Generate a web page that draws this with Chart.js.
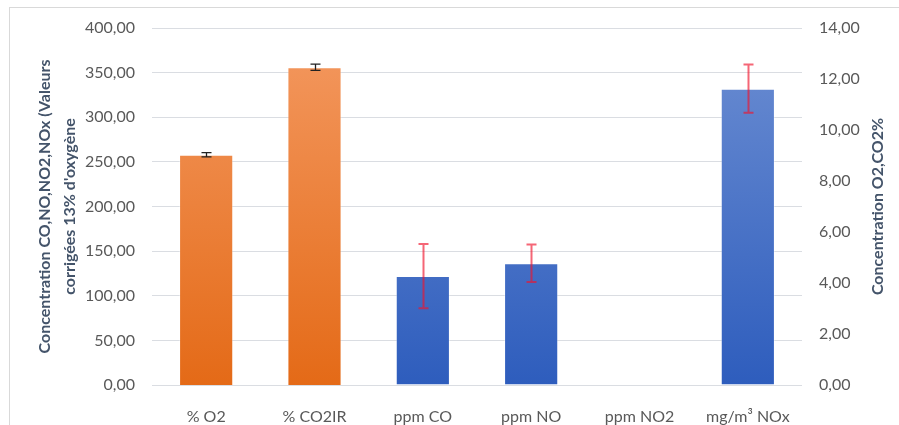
<!DOCTYPE html>
<html>
<head>
<meta charset="utf-8">
<script src="https://cdn.jsdelivr.net/npm/chart.js@4.4.1/dist/chart.umd.min.js"></script>
<style>
html,body{margin:0;padding:0;background:#fff;overflow:hidden;}
#wrap{position:relative;width:899px;height:425px;}
#frame{position:absolute;left:9px;top:7px;width:1200px;height:1200px;border:1px solid #d9d9d9;box-sizing:border-box;}
#c{position:absolute;left:0;top:0;}
</style>
</head>
<body>
<div id="wrap"><div id="frame"></div><canvas id="c" width="899" height="425"></canvas></div>
<script>
const categories = ['% O2', '% CO2IR', 'ppm CO', 'ppm NO', 'ppm NO2', 'mg/m³ NOx'];
const percentValues = [9.03, 12.46, null, null, null, null];
const percentErrors = [0.08, 0.12, null, null, null, null];
const concValues = [null, null, 122, 136.5, 0, 332];
const concErrors = [null, null, 36, 21, null, 27];
const leftTicks = [0, 50, 100, 150, 200, 250, 300, 350, 400];
const rightTicks = [0, 2, 4, 6, 8, 10, 12, 14];
const leftTitle = ["Concentration CO,NO,NO2,NOx (Valeurs", "corrigées 13% d'oxygène"];
const rightTitle = "Concentration O2,CO2%";

const FONT = 'Lato, "Open Sans", sans-serif';
const fmt = v => Number(v).toFixed(2).replace('.', ',');

const gradientPlugin = {
  id: 'barGradient',
  beforeDatasetDraw(chart, args) {
    const meta = args.meta;
    const ds = chart.data.datasets[args.index];
    const ctx = chart.ctx;
    meta.data.forEach(el => {
      if (el.y == null || isNaN(el.y)) return;
      const top = Math.min(el.y, el.base), bot = Math.max(el.y, el.base);
      if (bot - top < 0.5) return;
      const g = ctx.createLinearGradient(0, top, 0, bot);
      g.addColorStop(0, ds.gradTop);
      g.addColorStop(1, ds.gradBottom);
      el.options.backgroundColor = g;
    });
  }
};

const errorPlugin = {
  id: 'errorBars',
  afterDatasetsDraw(chart) {
    const ctx = chart.ctx;
    chart.data.datasets.forEach((ds, i) => {
      const meta = chart.getDatasetMeta(i);
      const scale = chart.scales[ds.yAxisID];
      ds.errors.forEach((e, j) => {
        const v = ds.data[j];
        if (v == null || e == null) return;
        const el = meta.data[j];
        const x = Math.round(el.x) + 0.5;
        const yT = scale.getPixelForValue(v + e);
        const yB = scale.getPixelForValue(v - e);
        ctx.save();
        ctx.strokeStyle = ds.errorColor;
        ctx.lineWidth = ds.errorWidth;
        ctx.beginPath();
        ctx.moveTo(x, yT); ctx.lineTo(x, yB);
        ctx.moveTo(x - 5, yT); ctx.lineTo(x + 5, yT);
        ctx.moveTo(x - 5, yB); ctx.lineTo(x + 5, yB);
        ctx.stroke();
        ctx.restore();
      });
    });
  }
};

const titlePlugin = {
  id: 'axisTitles',
  afterDraw(chart) {
    const ctx = chart.ctx;
    const ca = chart.chartArea;
    const cy = (ca.top + ca.bottom) / 2;
    ctx.save();
    ctx.fillStyle = '#44546a';
    ctx.font = 'bold 16px ' + FONT;
    ctx.textAlign = 'center';
    ctx.textBaseline = 'middle';
    const xs = [45, 70];
    leftTitle.forEach((t, k) => {
      ctx.save();
      ctx.translate(xs[k], cy);
      ctx.rotate(-Math.PI / 2);
      ctx.fillText(t, 0, 0);
      ctx.restore();
    });
    ctx.save();
    ctx.translate(878, cy);
    ctx.rotate(-Math.PI / 2);
    ctx.fillText(rightTitle, 0, 0);
    ctx.restore();
    ctx.restore();
  }
};

new Chart(document.getElementById('c'), {
  type: 'bar',
  data: {
    labels: categories,
    datasets: [
      {
        label: 'O2, CO2',
        data: percentValues,
        errors: percentErrors,
        yAxisID: 'y1',
        grouped: false,
        backgroundColor: '#ed7d31',
        gradTop: '#f29459',
        gradBottom: '#e46a17',
        borderColor: 'rgba(255,255,255,0.35)',
        borderWidth: 1,
        errorColor: '#222',
        errorWidth: 1.3
      },
      {
        label: 'CO, NO, NO2, NOx',
        data: concValues,
        errors: concErrors,
        yAxisID: 'y',
        grouped: false,
        backgroundColor: '#4472c4',
        gradTop: '#6286cf',
        gradBottom: '#2e5dbd',
        borderColor: 'rgba(255,255,255,0.35)',
        borderWidth: 1,
        errorColor: 'rgba(240,20,45,0.65)',
        errorWidth: 2
      }
    ]
  },
  options: {
    responsive: false,
    animation: false,
    events: [],
    layout: { padding: { top: 28, bottom: 0, left: 0, right: 0 } },
    datasets: { bar: { barPercentage: 0.5, categoryPercentage: 1.0 } },
    plugins: { legend: { display: false }, tooltip: { enabled: false } },
    scales: {
      x: {
        grid: { display: false },
        border: { display: false },
        ticks: { color: '#595959', font: { family: FONT, size: 16 }, padding: 14, maxRotation: 0, autoSkip: false },
        afterFit(s) { s.height = 40; }
      },
      y: {
        position: 'left',
        min: 0, max: 400,
        afterBuildTicks(s) { s.ticks = leftTicks.map(v => ({ value: v })); },
        grid: { color: '#dadde2', lineWidth: 1, drawTicks: false },
        border: { display: false },
        ticks: { color: '#595959', font: { family: FONT, size: 16 }, padding: 17, callback: v => fmt(v) },
        afterFit(s) { s.width = 152; }
      },
      y1: {
        position: 'right',
        min: 0, max: 14,
        afterBuildTicks(s) { s.ticks = rightTicks.map(v => ({ value: v })); },
        grid: { display: false, drawTicks: false },
        border: { display: false },
        ticks: { color: '#595959', font: { family: FONT, size: 16 }, padding: 17, callback: v => fmt(v) },
        afterFit(s) { s.width = 97; }
      }
    }
  },
  plugins: [gradientPlugin, errorPlugin, titlePlugin]
});
</script>
</body>
</html>
